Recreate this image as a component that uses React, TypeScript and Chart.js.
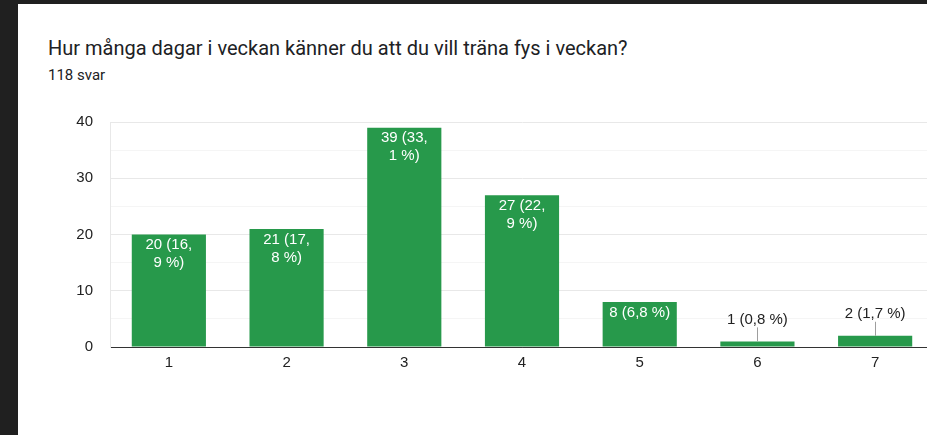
import React, { useEffect, useRef } from "react";
import { Chart, registerables } from "chart.js";

Chart.register(...registerables);

const categories = ["1", "2", "3", "4", "5", "6", "7"];
const counts = [20, 21, 39, 27, 8, 1, 2];
const percents = ["16,9", "17,8", "33,1", "22,9", "6,8", "0,8", "1,7"];
const yTicks = [0, 10, 20, 30, 40];

const TITLE = "Hur många dagar i veckan känner du att du vill träna fys i veckan?";
const SUBTITLE = "118 svar";

const BAR_COLOR = "#27994b";
const LABEL_FONT = '15px "Liberation Sans", Arial, sans-serif';

const labelPlugin = {
  id: "barLabels",
  afterDatasetsDraw(chart: any) {
    const ctx = chart.ctx;
    const meta = chart.getDatasetMeta(0);
    ctx.save();
    ctx.font = LABEL_FONT;
    ctx.textAlign = "center";
    ctx.textBaseline = "middle";
    meta.data.forEach((bar: any, i: number) => {
      const full = `${counts[i]} (${percents[i]} %)`;
      const barW = bar.width;
      const top = bar.y;
      const height = bar.base - bar.y;
      let lines = [full];
      if (ctx.measureText(full).width > barW - 4) {
        const idx = full.indexOf(",");
        lines = [full.slice(0, idx + 1), full.slice(idx + 1).trim()];
      }
      if (height > 30) {
        ctx.fillStyle = "#ffffff";
        lines.forEach((ln, k) => ctx.fillText(ln, bar.x, top + 10.5 + k * 18));
      } else {
        ctx.strokeStyle = "#9e9e9e";
        ctx.lineWidth = 1;
        ctx.beginPath();
        ctx.moveTo(Math.round(bar.x) + 0.5, top - 14);
        ctx.lineTo(Math.round(bar.x) + 0.5, top);
        ctx.stroke();
        ctx.fillStyle = "#222222";
        ctx.fillText(full, bar.x, top - 22);
      }
    });
    ctx.restore();
  },
};

export default function App() {
  const ref = useRef<HTMLCanvasElement | null>(null);

  useEffect(() => {
    if (!ref.current) return;
    const chart = new Chart(ref.current, {
      type: "bar",
      data: {
        labels: categories,
        datasets: [
          {
            data: counts,
            backgroundColor: BAR_COLOR,
            borderWidth: 0,
            categoryPercentage: 1,
            barPercentage: 0.63,
          },
        ],
      },
      options: {
        responsive: false,
        animation: false,
        events: [],
        layout: { padding: { top: 22, left: 0, right: 0, bottom: 0 } },
        plugins: {
          legend: { display: false },
          tooltip: { enabled: false },
          title: { display: false },
        },
        scales: {
          x: {
            grid: { color: "rgba(0,0,0,0)", drawTicks: false },
            border: { display: true, color: "#333333", width: 1 },
            ticks: {
              color: "#222222",
              font: { family: '"Liberation Sans", Arial, sans-serif', size: 15 },
              padding: 7,
            },
            afterFit(scale: any) {
              scale.height = 53;
              scale.paddingLeft = 0;
              scale.paddingRight = 0;
            },
          },
          y: {
            min: 0,
            max: 40,
            grid: {
              drawTicks: false,
              color: (c: any) => {
                const v = c.tick ? c.tick.value : 0;
                if (v === 0) return "#333333";
                return v % 10 === 0 ? "#e8e8e8" : "#f5f5f5";
              },
            },
            border: { display: true, color: "#e8e8e8", width: 1 },
            ticks: {
              stepSize: 5,
              color: "#222222",
              font: { family: '"Liberation Sans", Arial, sans-serif', size: 15 },
              padding: 17,
              callback: (v: any) => (yTicks.includes(Number(v)) ? String(v) : ""),
            },
            afterFit(scale: any) {
              scale.width = 92;
              scale.paddingTop = 0;
              scale.paddingBottom = 0;
            },
          },
        },
      },
      plugins: [labelPlugin],
    });
    return () => chart.destroy();
  }, []);

  return (
    <div
      style={{
        position: "fixed",
        left: 0,
        top: 0,
        width: 927,
        height: 435,
        background: "#202020",
        overflow: "hidden",
      }}
    >
      <div
        style={{
          position: "absolute",
          left: 18,
          top: 4,
          right: 0,
          bottom: 0,
          background: "#ffffff",
          overflow: "hidden",
        }}
      >
        <div
          style={{
            position: "absolute",
            left: 30,
            top: 31.5,
            fontFamily: "Roboto, sans-serif",
            fontSize: 20,
            lineHeight: "normal",
            color: "#202124",
            whiteSpace: "nowrap",
          }}
        >
          {TITLE}
        </div>
        <div
          style={{
            position: "absolute",
            left: 30,
            top: 62,
            fontFamily: "Roboto, sans-serif",
            fontSize: 15,
            lineHeight: "normal",
            color: "#202124",
            whiteSpace: "nowrap",
          }}
        >
          {SUBTITLE}
        </div>
        <canvas
          ref={ref}
          width={916}
          height={300}
          style={{ position: "absolute", left: 0, top: 96, width: 916, height: 300 }}
        />
      </div>
    </div>
  );
}
